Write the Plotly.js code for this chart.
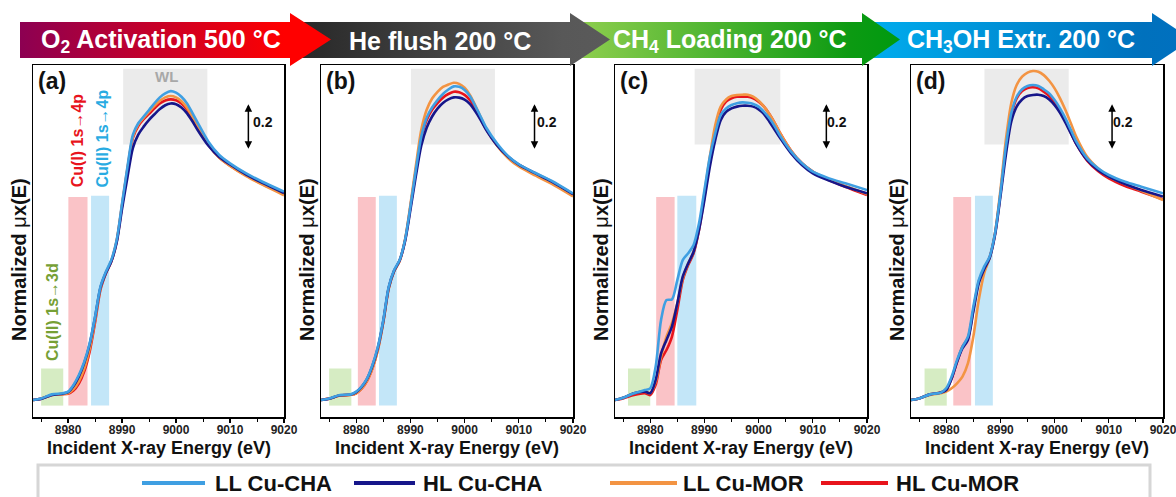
<!DOCTYPE html>
<html><head><meta charset="utf-8">
<script src="https://cdn.plot.ly/plotly-3.0.1.min.js"></script>
<style>html,body{margin:0;padding:0;background:#fff;}#chart{width:1176px;height:497px;}</style>
</head><body><div id="chart"></div>
<script>
// ---------- data ----------
const energy = [8973.5, 8975, 8977, 8979, 8980, 8981, 8982, 8983, 8984, 8985, 8986, 8987, 8988, 8989, 8990, 8991, 8992, 8993, 8994, 8995, 8996, 8997, 8998, 8999, 9000, 9001, 9002, 9003, 9004, 9006, 9008, 9010, 9013, 9016, 9020];

const seriesNames = ['LL Cu-CHA', 'HL Cu-CHA', 'LL Cu-MOR', 'HL Cu-MOR'];
const seriesColors = ['#3f9fe2', '#16168a', '#f39443', '#e8141c'];
const panelLetters = ['(a)', '(b)', '(c)', '(d)'];
const stageTitles = ['O<sub>2</sub> Activation 500 °C', 'He flush 200 °C', 'CH<sub>4</sub> Loading 200 °C', 'CH<sub>3</sub>OH Extr. 200 °C'];
const xTitle = 'Incident X-ray Energy (eV)';
const yTitle = '<b>Normalized </b>μ<b>x(E)</b>';
const scaleBarLabel = '0.2';

// (a) O2 activation
const a_LL_CHA = [0.0, 0.007, 0.025, 0.030, 0.037, 0.067, 0.111, 0.170, 0.252, 0.370, 0.504, 0.570, 0.622, 0.711, 0.874, 1.037, 1.178, 1.230, 1.260, 1.289, 1.319, 1.345, 1.363, 1.373, 1.366, 1.348, 1.319, 1.277, 1.233, 1.148, 1.089, 1.052, 1.007, 0.970, 0.926];
const a_HL_CHA = [0.0, 0.005, 0.022, 0.028, 0.035, 0.062, 0.105, 0.165, 0.248, 0.368, 0.500, 0.565, 0.615, 0.700, 0.850, 0.990, 1.120, 1.180, 1.215, 1.245, 1.270, 1.293, 1.310, 1.318, 1.315, 1.300, 1.275, 1.240, 1.200, 1.130, 1.080, 1.047, 1.002, 0.965, 0.920];
const a_LL_MOR = [0.0, 0.006, 0.022, 0.026, 0.030, 0.048, 0.083, 0.140, 0.228, 0.355, 0.495, 0.565, 0.618, 0.708, 0.868, 1.030, 1.170, 1.225, 1.255, 1.282, 1.308, 1.330, 1.345, 1.351, 1.345, 1.328, 1.300, 1.260, 1.218, 1.135, 1.077, 1.040, 0.995, 0.957, 0.910];
const a_HL_MOR = [0.0, 0.006, 0.022, 0.026, 0.028, 0.042, 0.073, 0.127, 0.215, 0.345, 0.490, 0.562, 0.615, 0.705, 0.865, 1.025, 1.165, 1.218, 1.248, 1.272, 1.296, 1.318, 1.331, 1.336, 1.332, 1.318, 1.292, 1.255, 1.215, 1.135, 1.078, 1.042, 0.998, 0.960, 0.915];
// (b) He flush
const b_LL_CHA = [0.0, 0.007, 0.022, 0.025, 0.037, 0.060, 0.096, 0.156, 0.237, 0.356, 0.504, 0.578, 0.622, 0.711, 0.860, 1.022, 1.170, 1.255, 1.300, 1.333, 1.360, 1.380, 1.394, 1.392, 1.378, 1.350, 1.305, 1.258, 1.210, 1.140, 1.085, 1.048, 1.010, 0.975, 0.918];
const b_HL_CHA = [0.0, 0.006, 0.021, 0.024, 0.035, 0.058, 0.094, 0.152, 0.233, 0.352, 0.500, 0.575, 0.620, 0.705, 0.845, 0.995, 1.130, 1.210, 1.260, 1.295, 1.320, 1.336, 1.345, 1.344, 1.335, 1.315, 1.282, 1.243, 1.200, 1.132, 1.082, 1.046, 1.008, 0.972, 0.915];
const b_LL_MOR = [0.0, 0.006, 0.020, 0.023, 0.030, 0.050, 0.085, 0.140, 0.222, 0.345, 0.495, 0.572, 0.618, 0.712, 0.868, 1.040, 1.200, 1.290, 1.340, 1.370, 1.392, 1.402, 1.410, 1.405, 1.388, 1.355, 1.308, 1.255, 1.205, 1.130, 1.075, 1.038, 0.998, 0.962, 0.905];
const b_HL_MOR = [0.0, 0.006, 0.020, 0.023, 0.030, 0.050, 0.085, 0.142, 0.225, 0.348, 0.497, 0.573, 0.618, 0.708, 0.858, 1.020, 1.165, 1.245, 1.290, 1.320, 1.344, 1.360, 1.370, 1.368, 1.356, 1.332, 1.292, 1.248, 1.203, 1.132, 1.079, 1.042, 1.003, 0.967, 0.910];
// (c) CH4 loading
const c_LL_CHA = [0.0, 0.010, 0.030, 0.044, 0.052, 0.148, 0.356, 0.444, 0.447, 0.533, 0.622, 0.652, 0.689, 0.785, 0.933, 1.081, 1.185, 1.267, 1.296, 1.311, 1.319, 1.323, 1.321, 1.316, 1.304, 1.281, 1.252, 1.215, 1.173, 1.104, 1.052, 1.015, 0.985, 0.963, 0.933];
const c_HL_CHA = [0.0, 0.010, 0.030, 0.037, 0.030, 0.089, 0.207, 0.267, 0.326, 0.430, 0.548, 0.607, 0.659, 0.756, 0.889, 1.037, 1.156, 1.244, 1.281, 1.296, 1.304, 1.308, 1.308, 1.304, 1.292, 1.271, 1.237, 1.200, 1.163, 1.096, 1.044, 1.007, 0.975, 0.948, 0.919];
const c_LL_MOR = [0.0, 0.010, 0.030, 0.037, 0.030, 0.081, 0.193, 0.281, 0.341, 0.430, 0.541, 0.607, 0.659, 0.763, 0.919, 1.081, 1.222, 1.304, 1.336, 1.351, 1.356, 1.357, 1.357, 1.348, 1.330, 1.304, 1.270, 1.230, 1.185, 1.108, 1.052, 1.015, 0.978, 0.951, 0.916];
const c_HL_MOR = [0.0, 0.007, 0.022, 0.030, 0.022, 0.067, 0.178, 0.222, 0.281, 0.400, 0.533, 0.600, 0.652, 0.756, 0.904, 1.067, 1.200, 1.289, 1.326, 1.341, 1.348, 1.348, 1.348, 1.341, 1.326, 1.304, 1.270, 1.230, 1.185, 1.108, 1.052, 1.015, 0.978, 0.948, 0.911];
// (d) CH3OH extraction
const d_LL_CHA = [0.0, 0.007, 0.025, 0.033, 0.052, 0.104, 0.178, 0.237, 0.281, 0.415, 0.533, 0.593, 0.637, 0.741, 0.919, 1.126, 1.274, 1.348, 1.381, 1.396, 1.400, 1.396, 1.381, 1.363, 1.333, 1.296, 1.252, 1.200, 1.148, 1.074, 1.030, 1.000, 0.970, 0.948, 0.919];
const d_HL_CHA = [0.0, 0.007, 0.025, 0.033, 0.044, 0.096, 0.170, 0.230, 0.267, 0.393, 0.519, 0.581, 0.630, 0.733, 0.904, 1.089, 1.237, 1.304, 1.336, 1.351, 1.356, 1.357, 1.351, 1.336, 1.311, 1.277, 1.233, 1.185, 1.138, 1.067, 1.022, 0.993, 0.960, 0.933, 0.904];
const d_LL_MOR = [0.0, 0.007, 0.022, 0.030, 0.037, 0.052, 0.074, 0.104, 0.163, 0.281, 0.444, 0.563, 0.630, 0.741, 0.933, 1.156, 1.319, 1.400, 1.437, 1.455, 1.462, 1.459, 1.444, 1.419, 1.385, 1.341, 1.289, 1.230, 1.170, 1.081, 1.030, 0.993, 0.960, 0.930, 0.889];
const d_HL_MOR = [0.0, 0.007, 0.025, 0.033, 0.047, 0.096, 0.170, 0.237, 0.274, 0.400, 0.526, 0.585, 0.634, 0.738, 0.916, 1.123, 1.267, 1.341, 1.373, 1.387, 1.390, 1.385, 1.370, 1.351, 1.321, 1.286, 1.241, 1.188, 1.138, 1.064, 1.018, 0.985, 0.951, 0.926, 0.892];

const panels = [
  [a_LL_CHA, a_HL_CHA, a_LL_MOR, a_HL_MOR],
  [b_LL_CHA, b_HL_CHA, b_LL_MOR, b_HL_MOR],
  [c_LL_CHA, c_HL_CHA, c_LL_MOR, c_HL_MOR],
  [d_LL_CHA, d_HL_CHA, d_LL_MOR, d_HL_MOR]
];

// ---------- layout helpers ----------
const W = 1176, H = 497;
const px = v => v / W;
const py = v => 1 - v / H;
const FONT = 'Liberation Sans, Arial, sans-serif';
const panelLeft = [33, 321, 615, 911];
const panelRight = [284, 573, 867, 1163];
const plotTop = 65, plotBottom = 417;
const xRange = [8973.5, 9020];
const yRange = [-0.0756, 1.489];

// shaded bands (energy extents) per panel
const band3d = [[8975.0, 8979.1], [8975.0, 8979.1], [8975.9, 8980.0], [8976.0, 8980.1]];
const bandCuI = [[8980.05, 8983.6], [8980.3, 8983.6], [8981.1, 8984.5], [8981.3, 8984.6]];
const bandCuII = [[8984.25, 8987.6], [8984.2, 8987.5], [8985.0, 8988.5], [8985.3, 8988.6]];
const bandWL = [[8990.2, 9005.8], [8990.1, 9005.6], [8988.2, 9004.0], [8987.05, 9002.6]];
const scaleBarX = [9013.4, 9012.9, 9012.5, 9010.6];
const scaleLabelX = [9016.2, 9015.2, 9014.4, 9012.7];

const traces = [];
const shapes = [];
const annotations = [];
const layout = {
  width: W, height: H,
  margin: {l: 0, r: 0, t: 0, b: 0},
  paper_bgcolor: '#ffffff', plot_bgcolor: 'rgba(0,0,0,0)',
  showlegend: false,
  font: {family: FONT, color: '#111'}
};
const C = {xanchor: 'center', yanchor: 'middle', showarrow: false};

const drawOrder = [3, 2, 1, 0];
for (let p = 0; p < 4; p++) {
  const sfx = p === 0 ? '' : String(p + 1);
  const xa = 'x' + sfx, ya = 'y' + sfx;
  layout['xaxis' + sfx] = {
    domain: [px(panelLeft[p]), px(panelRight[p])], anchor: ya, range: xRange,
    showline: true, linecolor: '#000', linewidth: 1.5, mirror: true,
    ticks: 'outside', ticklen: 4, tickwidth: 1.2, tickcolor: '#000',
    tick0: 8980, dtick: 10, ticklabeloverflow: 'allow', ticklabelstandoff: -3,
    minor: {ticks: 'outside', tick0: 8975, dtick: 5, ticklen: 3, tickcolor: '#000', tickwidth: 1},
    tickfont: {family: FONT, size: 12, color: '#222', weight: 'bold'},
    showgrid: false, zeroline: false, fixedrange: true
  };
  layout['yaxis' + sfx] = {
    domain: [py(plotBottom), py(plotTop)], anchor: xa, range: yRange,
    showline: true, linecolor: '#000', linewidth: 1.5, mirror: true,
    showticklabels: false, ticks: '', showgrid: false, zeroline: false, fixedrange: true
  };
  drawOrder.forEach(s => {
    traces.push({
      type: 'scatter', mode: 'lines', x: energy, y: panels[p][s],
      xaxis: xa, yaxis: ya, name: seriesNames[s],
      line: {color: seriesColors[s], width: 2.6, shape: 'spline', smoothing: 0.8},
      hoverinfo: 'skip', showlegend: false
    });
  });
  const rect = (x0, x1, y0, y1, col) => shapes.push({type: 'rect', xref: xa, yref: ya, x0, x1, y0, y1,
    fillcolor: col, line: {width: 0}, layer: 'below'});
  rect(band3d[p][0], band3d[p][1], -0.025, 0.14, 'rgba(200,230,175,0.75)');
  rect(bandCuI[p][0], bandCuI[p][1], -0.025, 0.902, 'rgba(248,170,175,0.7)');
  rect(bandCuII[p][0], bandCuII[p][1], -0.025, 0.908, 'rgba(175,222,246,0.75)');
  rect(bandWL[p][0], bandWL[p][1], 1.136, 1.472, 'rgba(232,232,232,0.85)');

  // scale bar (double-headed arrow)
  annotations.push({xref: xa, yref: ya, axref: xa, ayref: ya, x: scaleBarX[p], y: 1.315, ax: scaleBarX[p], ay: 1.11,
    text: '', showarrow: true, arrowside: 'end+start', arrowhead: 2, arrowsize: 1, arrowwidth: 1.5, arrowcolor: '#000'});
  annotations.push(Object.assign({xref: xa, yref: ya, x: scaleLabelX[p], y: 1.236, text: '<b>' + scaleBarLabel + '</b>',
    font: {family: FONT, size: 14, color: '#111'}}, C));
  // panel letter
  annotations.push(Object.assign({xref: xa + ' domain', yref: ya + ' domain', x: 0.077, y: 0.955, text: '<b>' + panelLetters[p] + '</b>',
    font: {family: FONT, size: 23, color: '#111'}}, C));
  // axis titles
  const cx = (panelLeft[p] + panelRight[p]) / 2;
  annotations.push(Object.assign({xref: 'paper', yref: 'paper', x: px(cx), y: py(448), text: '<b>' + xTitle + '</b>',
    font: {family: FONT, size: 18, color: '#111'}}, C));
  annotations.push(Object.assign({xref: 'paper', yref: 'paper', x: px(panelLeft[p] - 14), y: py(260), text: yTitle, textangle: -90,
    font: {family: FONT, size: 20, color: '#111'}}, C));
}

// panel (a) labels
annotations.push(Object.assign({xref: 'x', yref: 'y', x: 8998.3, y: 1.437, text: '<b>WL</b>', font: {family: FONT, size: 15, color: '#a8a8a8'}}, C));
annotations.push(Object.assign({xref: 'x', yref: 'y', x: 8981.9, y: 1.156, text: '<b>Cu(I) 1s→4p</b>', textangle: -90, font: {family: FONT, size: 16, color: '#e8141c'}}, C));
annotations.push(Object.assign({xref: 'x', yref: 'y', x: 8986.2, y: 1.16, text: '<b>Cu(II) 1s→4p</b>', textangle: -90, font: {family: FONT, size: 16, color: '#29abe2'}}, C));
annotations.push(Object.assign({xref: 'x', yref: 'y', x: 8977.1, y: 0.393, text: '<b>Cu(II) 1s→3d</b>', textangle: -90, font: {family: FONT, size: 16, color: '#76a035'}}, C));

// ---------- header arrows (own overlay axes in pixel units) ----------
layout.xaxis5 = {domain: [0, 1], range: [0, W], visible: false, fixedrange: true, anchor: 'y5'};
layout.yaxis5 = {domain: [py(80), 1], range: [80, 0], visible: false, fixedrange: true, anchor: 'x5'};
const arrowSpecs = [
  {x0: 862, x1: 1152, tip: 1192, cs: [[0, '#00aeef'], [0.85, '#0071bd'], [1, '#0070c0']]},
  {x0: 570, x1: 862, tip: 900, cs: [[0, '#92d050'], [0.85, '#0c9a12'], [1, '#009a10']]},
  {x0: 288, x1: 570, tip: 610, cs: [[0, '#262626'], [0.85, '#585858'], [1, '#5a5a5a']]},
  {x0: 20, x1: 290, tip: 331, cs: [[0, '#8c0052'], [0.85, '#ff0000'], [1, '#ff0000']]}
];
arrowSpecs.forEach(a => {
  traces.push({
    type: 'scatter', mode: 'lines', xaxis: 'x5', yaxis: 'y5',
    x: [a.x0, a.x1, a.x1, a.tip, a.x1, a.x1, a.x0, a.x0],
    y: [22, 22, 13, 39.5, 66, 58, 58, 22],
    fill: 'toself', fillgradient: {type: 'horizontal', colorscale: a.cs},
    fillcolor: a.cs[1][1],
    line: {width: 0}, hoverinfo: 'skip', showlegend: false
  });
});
const headerCenters = [161, 440, 730, 1021];
stageTitles.forEach((t, i) => annotations.push(Object.assign({xref: 'paper', yref: 'paper', x: px(headerCenters[i]), y: py(41),
  text: '<b>' + t + '</b>', font: {family: FONT, size: 25, color: '#ffffff'}}, C)));

// ---------- legend ----------
shapes.push({type: 'rect', xref: 'paper', yref: 'paper', x0: px(38), x1: px(1150), y0: py(505), y1: py(465),
  line: {color: '#d6d6d6', width: 3}, fillcolor: 'rgba(0,0,0,0)'});
const legendLine = [[142, 205], [354, 415], [610, 677], [821, 888]];
const legendText = [213, 421, 681, 894];
seriesNames.forEach((n, i) => {
  shapes.push({type: 'line', xref: 'paper', yref: 'paper', x0: px(legendLine[i][0]), x1: px(legendLine[i][1]),
    y0: py(483), y1: py(483), line: {color: seriesColors[i], width: 4}});
  annotations.push({xref: 'paper', yref: 'paper', x: px(legendText[i]), y: py(483), xanchor: 'left', yanchor: 'middle',
    text: '<b>' + n + '</b>', showarrow: false, font: {family: FONT, size: 22, color: '#111'}});
});

layout.shapes = shapes;
layout.annotations = annotations;
Plotly.newPlot('chart', traces, layout, {displayModeBar: false, staticPlot: true});
</script>
</body></html>
